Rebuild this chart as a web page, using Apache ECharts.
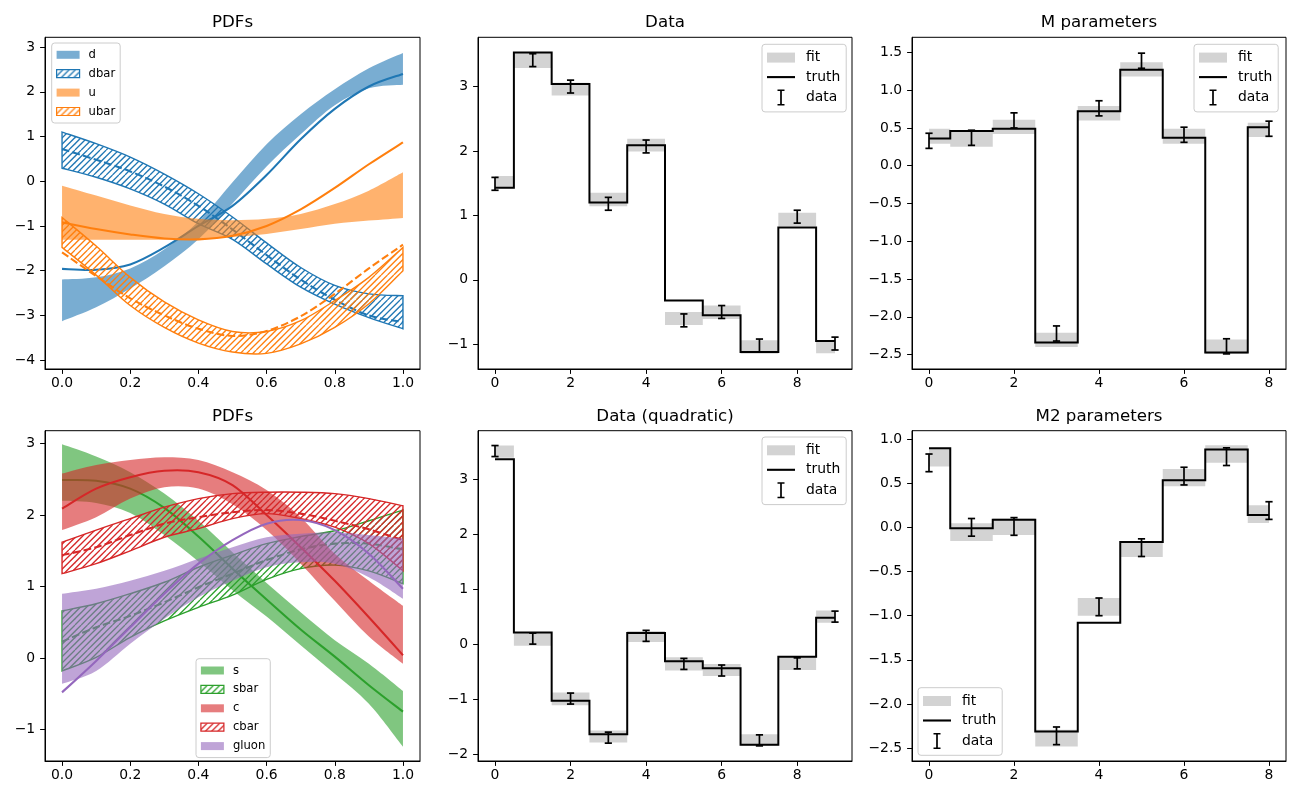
<!DOCTYPE html>
<html>
<head>
<meta charset="utf-8">
<title>PDF fits</title>
<script src="https://cdn.jsdelivr.net/npm/echarts@6.0.0/dist/echarts.min.js"></script>
<style>html,body{margin:0;padding:0;background:#fff;}#chart{width:1300px;height:800px;}</style>
</head>
<body>
<div id="chart"></div>
<script>
// ---------------- data ----------------
const titles = ['PDFs', 'Data', 'M parameters', 'PDFs', 'Data (quadratic)', 'M2 parameters'];

const pdfX = [0, 0.1, 0.2, 0.3, 0.4, 0.5, 0.6, 0.7, 0.8, 0.9, 1.0];
// top-left PDFs
const dLo = [-3.13, -2.82, -2.4, -1.9, -1.3, -0.5, 0.33, 1.05, 1.7, 2.08, 2.16];
const dHi = [-2.2, -2.15, -1.95, -1.52, -0.9, -0.02, 0.83, 1.5, 2.06, 2.53, 2.87];
const dTruth = [-1.96, -1.98, -1.86, -1.48, -1.0, -0.55, 0.14, 0.94, 1.62, 2.12, 2.4];
const dbarLo = [0.29, 0.09, -0.17, -0.51, -0.95, -1.3, -1.85, -2.37, -2.75, -3.05, -3.30];
const dbarHi = [1.10, 0.84, 0.54, 0.16, -0.28, -0.8, -1.38, -1.93, -2.33, -2.52, -2.56];
const dbarTruth = [0.72, 0.48, 0.22, -0.12, -0.55, -1.08, -1.65, -2.2, -2.65, -3.0, -3.15];
const uLo = [-1.31, -1.31, -1.31, -1.31, -1.29, -1.25, -1.18, -1.07, -0.95, -0.88, -0.82];
const uHi = [-0.1, -0.32, -0.54, -0.73, -0.84, -0.87, -0.84, -0.73, -0.51, -0.21, 0.2];
const uTruth = [-0.92, -1.07, -1.19, -1.28, -1.3, -1.22, -1.0, -0.63, -0.15, 0.38, 0.87];
const ubarLo = [-1.48, -2.1, -2.78, -3.27, -3.62, -3.82, -3.85, -3.64, -3.27, -2.74, -2.0];
const ubarHi = [-0.81, -1.45, -2.15, -2.7, -3.1, -3.36, -3.36, -3.12, -2.67, -2.15, -1.48];
const ubarTruth = [-1.59, -2.12, -2.62, -3.0, -3.3, -3.46, -3.35, -3.02, -2.52, -1.95, -1.42];
// bottom-left PDFs
const sLo = [2.2, 2.17, 2.03, 1.72, 1.35, 0.95, 0.58, 0.18, -0.22, -0.64, -1.24];
const sHi = [2.99, 2.82, 2.6, 2.3, 1.92, 1.48, 1.05, 0.64, 0.25, -0.08, -0.46];
const sTruth = [2.49, 2.48, 2.37, 2.1, 1.7, 1.25, 0.82, 0.4, 0.02, -0.38, -0.75];
const sbarLo = [-0.18, 0.01, 0.29, 0.52, 0.71, 0.88, 1.1, 1.25, 1.3, 1.22, 1.04];
const sbarHi = [0.66, 0.76, 0.9, 1.06, 1.27, 1.44, 1.6, 1.7, 1.78, 1.92, 2.07];
const sbarTruth = [0.23, 0.43, 0.59, 0.78, 0.99, 1.18, 1.37, 1.52, 1.6, 1.6, 1.52];
const cLo = [1.79, 1.97, 2.23, 2.39, 2.37, 2.15, 1.79, 1.32, 0.8, 0.3, -0.08];
const cHi = [2.58, 2.7, 2.77, 2.81, 2.77, 2.6, 2.35, 1.97, 1.46, 1.08, 0.73];
const cTruth = [2.09, 2.37, 2.53, 2.62, 2.6, 2.42, 2.0, 1.55, 1.08, 0.57, 0.04];
const cbarLo = [1.18, 1.32, 1.5, 1.69, 1.81, 1.95, 2.02, 1.95, 1.83, 1.6, 1.22];
const cbarHi = [1.62, 1.79, 1.95, 2.11, 2.23, 2.3, 2.32, 2.32, 2.3, 2.23, 2.13];
const cbarTruth = [1.44, 1.55, 1.72, 1.88, 1.97, 2.04, 2.07, 2.02, 1.92, 1.8, 1.65];
const gLo = [-0.36, -0.18, 0.2, 0.55, 0.85, 1.08, 1.27, 1.34, 1.32, 1.13, 0.83];
const gHi = [0.9, 0.97, 1.08, 1.22, 1.39, 1.55, 1.69, 1.74, 1.76, 1.72, 1.67];
const gTruth = [-0.48, -0.04, 0.43, 0.9, 1.32, 1.65, 1.88, 1.93, 1.79, 1.46, 0.97];

// Data (10 bins)
const dataBins = [0, 1, 2, 3, 4, 5, 6, 7, 8, 9];
const dataTruth = [1.43, 3.53, 3.04, 1.20, 2.09, -0.32, -0.55, -1.12, 0.81, -0.95];
const dataFitLo = [1.42, 3.29, 2.86, 1.14, 1.99, -0.70, -0.61, -1.15, 0.83, -1.14];
const dataFitHi = [1.61, 3.53, 3.06, 1.35, 2.19, -0.50, -0.40, -0.94, 1.04, -0.95];
const dataObs = [1.49, 3.41, 3.00, 1.18, 2.07, -0.63, -0.50, -1.02, 0.98, -0.99];
const dataErr = [0.1, 0.1, 0.1, 0.1, 0.1, 0.1, 0.1, 0.1, 0.1, 0.1];
// M parameters (9 bins)
const mBins = [0, 1, 2, 3, 4, 5, 6, 7, 8];
const mTruth = [0.36, 0.46, 0.49, -2.34, 0.72, 1.27, 0.37, -2.47, 0.51];
const mFitLo = [0.29, 0.25, 0.42, -2.40, 0.60, 1.18, 0.29, -2.49, 0.38];
const mFitHi = [0.49, 0.47, 0.61, -2.21, 0.79, 1.37, 0.49, -2.30, 0.57];
const mObs = [0.33, 0.37, 0.60, -2.22, 0.76, 1.39, 0.41, -2.39, 0.49];
const mErr = [0.1, 0.1, 0.1, 0.1, 0.1, 0.1, 0.1, 0.1, 0.1];
// Data (quadratic)
const qTruth = [3.36, 0.21, -1.03, -1.64, 0.20, -0.31, -0.44, -1.83, -0.23, 0.48];
const qFitLo = [3.39, -0.03, -1.11, -1.79, 0.04, -0.48, -0.58, -1.85, -0.47, 0.39];
const qFitHi = [3.61, 0.21, -0.88, -1.57, 0.24, -0.24, -0.36, -1.64, -0.23, 0.61];
const qObs = [3.51, 0.10, -0.99, -1.70, 0.15, -0.36, -0.48, -1.75, -0.35, 0.50];
const qErr = [0.1, 0.1, 0.1, 0.1, 0.1, 0.1, 0.1, 0.1, 0.1, 0.1];
// M2 parameters
const m2Truth = [0.895, -0.01, 0.086, -2.31, -1.08, -0.166, 0.534, 0.88, 0.14];
const m2FitLo = [0.69, -0.155, -0.087, -2.48, -1.00, -0.335, 0.466, 0.73, 0.05];
const m2FitHi = [0.895, 0.045, 0.10, -2.29, -0.80, -0.166, 0.66, 0.93, 0.25];
const m2Obs = [0.73, 0.0, 0.01, -2.36, -0.90, -0.23, 0.58, 0.80, 0.19];
const m2Err = [0.1, 0.1, 0.1, 0.1, 0.1, 0.1, 0.1, 0.1, 0.1];

// ticks
const pdfXTicks = [0, 0.2, 0.4, 0.6, 0.8, 1.0];
const pdfTopYTicks = [-4, -3, -2, -1, 0, 1, 2, 3];
const pdfBotYTicks = [-1, 0, 1, 2, 3];
const binXTicks = [0, 2, 4, 6, 8];
const dataYTicks = [-1, 0, 1, 2, 3];
const mYTicks = [-2.5, -2.0, -1.5, -1.0, -0.5, 0.0, 0.5, 1.0, 1.5];
const qYTicks = [-2, -1, 0, 1, 2, 3];
const m2YTicks = [-2.5, -2.0, -1.5, -1.0, -0.5, 0.0, 0.5, 1.0];

// ---------------- styling / helpers ----------------
const C0 = '#1f77b4', C1 = '#ff7f0e', C2 = '#2ca02c', C3 = '#d62728', C4 = '#9467bd';
const FONT = 'DejaVu Sans';
function alpha(hex, a) {
  const n = parseInt(hex.slice(1), 16);
  return 'rgba(' + (n >> 16) + ',' + ((n >> 8) & 255) + ',' + (n & 255) + ',' + a + ')';
}
function makeHatch(color) {
  const s = 25, k = 4, c = document.createElement('canvas');
  c.width = s; c.height = s;
  const g = c.getContext('2d');
  g.strokeStyle = color; g.lineWidth = 1.25;
  for (let j = 0; j <= 2 * k; j++) {
    const x0 = j * s / k - s;
    g.beginPath(); g.moveTo(x0, s); g.lineTo(x0 + s, 0); g.stroke();
  }
  return { image: c, repeat: 'repeat' };
}
const hatch = { C0: makeHatch(C0), C1: makeHatch(C1), C2: makeHatch(C2), C3: makeHatch(C3) };
const colorOf = { C0: C0, C1: C1, C2: C2, C3: C3 };

function fmt(v, dec) {
  const s = Math.abs(v).toFixed(dec);
  return (v < -1e-9 ? '\u2212' : '') + s;
}
function pt(p) { return p[0] + ',' + p[1]; }
function spline(pts) {
  let s = '';
  const n = pts.length;
  for (let i = 0; i < n - 1; i++) {
    const p0 = pts[i > 0 ? i - 1 : 0], p1 = pts[i], p2 = pts[i + 1], p3 = pts[i + 2 < n ? i + 2 : n - 1];
    s += 'C' + (p1[0] + (p2[0] - p0[0]) / 6) + ',' + (p1[1] + (p2[1] - p0[1]) / 6) + ' ' +
      (p2[0] - (p3[0] - p1[0]) / 6) + ',' + (p2[1] - (p3[1] - p1[1]) / 6) + ' ' + pt(p2);
  }
  return s;
}

const boxes = [
  [45, 37.3, 375, 331.7], [478, 37.3, 374, 331.7], [912, 37.3, 374, 331.7],
  [45, 430.7, 375, 330.3], [478, 430.7, 374, 330.3], [912, 430.7, 374, 330.3]
];
const grids = boxes.map(b => ({
  left: b[0], top: b[1], width: b[2], height: b[3], show: true,
  borderColor: '#000', borderWidth: 1, backgroundColor: 'transparent',
  containLabel: false, outerBoundsMode: 'none'
}));

function axis(dim, g, min, max, ticks, dec) {
  return {
    gridIndex: g, type: 'value', min: min, max: max, scale: true,
    axisLine: { show: true, onZero: false, lineStyle: { color: '#000', width: 1 } },
    axisTick: { show: true, inside: false, length: 4.9, lineStyle: { color: '#000', width: 1 }, customValues: ticks },
    axisLabel: {
      show: true, customValues: ticks, formatter: v => fmt(v, dec), color: '#000',
      fontSize: 13.9, fontFamily: FONT, margin: dim === 'x' ? 7.5 : 9.8
    },
    splitLine: { show: false }
  };
}
const xAxes = [
  axis('x', 0, -0.05, 1.05, pdfXTicks, 1),
  axis('x', 1, -0.45, 9.45, binXTicks, 0),
  axis('x', 2, -0.4, 8.4, binXTicks, 0),
  axis('x', 3, -0.05, 1.05, pdfXTicks, 1),
  axis('x', 4, -0.45, 9.45, binXTicks, 0),
  axis('x', 5, -0.4, 8.4, binXTicks, 0)
];
const yAxes = [
  axis('y', 0, -4.2, 3.22, pdfTopYTicks, 0),
  axis('y', 1, -1.385, 3.765, dataYTicks, 0),
  axis('y', 2, -2.69, 1.70, mYTicks, 1),
  axis('y', 3, -1.44, 3.18, pdfBotYTicks, 0),
  axis('y', 4, -2.125, 3.88, qYTicks, 0),
  axis('y', 5, -2.645, 1.094, m2YTicks, 1)
];

function bandSeries(g, name, lo, hi, fill, stroke) {
  return {
    type: 'custom', name: name, xAxisIndex: g, yAxisIndex: g, silent: true,
    data: pdfX.map((x, i) => [x, lo[i], hi[i]]),
    encode: { x: 0, y: [1, 2] },
    renderItem: function (params, api) {
      if (params.dataIndex !== 0) return null;
      const top = pdfX.map((x, i) => api.coord([x, hi[i]]));
      const bot = pdfX.map((x, i) => api.coord([x, lo[i]])).reverse();
      const d = 'M' + pt(top[0]) + spline(top) + 'L' + pt(bot[0]) + spline(bot) + 'Z';
      return {
        type: 'path', shape: { pathData: d },
        style: { fill: fill, stroke: stroke || 'none', lineWidth: stroke ? 1.4 : 0 }
      };
    }
  };
}
function curveSeries(g, ys, color, dashed) {
  return {
    type: 'custom', xAxisIndex: g, yAxisIndex: g, silent: true,
    data: pdfX.map((x, i) => [x, ys[i]]),
    encode: { x: 0, y: 1 },
    renderItem: function (params, api) {
      if (params.dataIndex !== 0) return null;
      const pts = pdfX.map((x, i) => api.coord([x, ys[i]]));
      return {
        type: 'path', shape: { pathData: 'M' + pt(pts[0]) + spline(pts) },
        style: { fill: 'none', stroke: color, lineWidth: 2.08, lineDash: dashed ? [7.7, 3.3] : null, lineCap: 'butt' }
      };
    }
  };
}

function stepSeries(g, bins, fitLo, fitHi, truth, obs, err) {
  const first = bins[0], last = bins[bins.length - 1];
  return [
    {
      type: 'custom', name: 'fit', xAxisIndex: g, yAxisIndex: g, silent: true,
      data: bins.map((b, i) => [b, fitLo[i], fitHi[i]]),
      encode: { x: 0, y: [1, 2] },
      renderItem: function (params, api) {
        if (params.dataIndex !== 0) return null;
        let d = '';
        bins.forEach((b, i) => {
          const a = api.coord([Math.max(b - 0.5, first), fitHi[i]]);
          const c = api.coord([Math.min(b + 0.5, last), fitLo[i]]);
          d += 'M' + a[0] + ',' + a[1] + 'L' + c[0] + ',' + a[1] + 'L' + c[0] + ',' + c[1] + 'L' + a[0] + ',' + c[1] + 'Z';
        });
        return { type: 'path', shape: { pathData: d }, style: { fill: '#d3d3d3', stroke: 'none' } };
      }
    },
    {
      type: 'line', name: 'truth', xAxisIndex: g, yAxisIndex: g, silent: true,
      step: 'middle', symbol: 'none',
      data: bins.map((b, i) => [b, truth[i]]),
      lineStyle: { color: '#000', width: 2, join: 'miter' }, itemStyle: { color: '#000' }
    },
    {
      type: 'custom', name: 'data', xAxisIndex: g, yAxisIndex: g, silent: true,
      data: bins.map((b, i) => [b, obs[i], err[i]]),
      encode: { x: 0, y: 1 },
      renderItem: function (params, api) {
        const x = api.value(0), y = api.value(1), e = api.value(2);
        const t = api.coord([x, y + e]), bt = api.coord([x, y - e]);
        const w = 3.6, st = { stroke: '#000', lineWidth: 1.7 };
        return {
          type: 'group', children: [
            { type: 'line', shape: { x1: t[0], y1: t[1], x2: bt[0], y2: bt[1] }, style: st },
            { type: 'line', shape: { x1: t[0] - w, y1: t[1], x2: t[0] + w, y2: t[1] }, style: st },
            { type: 'line', shape: { x1: bt[0] - w, y1: bt[1], x2: bt[0] + w, y2: bt[1] }, style: st }
          ]
        };
      }
    }
  ];
}

const series = [
  bandSeries(0, 'd', dLo, dHi, alpha(C0, 0.6)),
  curveSeries(0, dTruth, C0, false),
  bandSeries(0, 'dbar', dbarLo, dbarHi, hatch.C0, C0),
  curveSeries(0, dbarTruth, C0, true),
  bandSeries(0, 'u', uLo, uHi, alpha(C1, 0.6)),
  curveSeries(0, uTruth, C1, false),
  bandSeries(0, 'ubar', ubarLo, ubarHi, hatch.C1, C1),
  curveSeries(0, ubarTruth, C1, true),

  bandSeries(3, 's', sLo, sHi, alpha(C2, 0.6)),
  curveSeries(3, sTruth, C2, false),
  bandSeries(3, 'sbar', sbarLo, sbarHi, hatch.C2, C2),
  curveSeries(3, sbarTruth, C2, true),
  bandSeries(3, 'c', cLo, cHi, alpha(C3, 0.6)),
  curveSeries(3, cTruth, C3, false),
  bandSeries(3, 'cbar', cbarLo, cbarHi, hatch.C3, C3),
  curveSeries(3, cbarTruth, C3, true),
  bandSeries(3, 'gluon', gLo, gHi, alpha(C4, 0.6)),
  curveSeries(3, gTruth, C4, false)
].concat(
  stepSeries(1, dataBins, dataFitLo, dataFitHi, dataTruth, dataObs, dataErr),
  stepSeries(2, mBins, mFitLo, mFitHi, mTruth, mObs, mErr),
  stepSeries(4, dataBins, qFitLo, qFitHi, qTruth, qObs, qErr),
  stepSeries(5, mBins, m2FitLo, m2FitHi, m2Truth, m2Obs, m2Err)
);

const fitIcon = 'path://M0,0H28V10H0Z';
const truthIcon = 'path://M0,0H28V2.1H0Z';
const dataIcon = 'path://M0,0H7V1.5H0Z M2.65,0H4.35V16H2.65Z M0,14.5H7V16H0Z';
function stepLegend(left, top) {
  return {
    orient: 'vertical', left: left, top: top, itemWidth: 28, itemHeight: 16, itemGap: 5.5,
    padding: [6.3, 6, 6.3, 5], backgroundColor: 'rgba(255,255,255,0.8)', borderColor: '#cccccc',
    borderWidth: 1, borderRadius: 3, selectedMode: false,
    textStyle: { fontSize: 13.9, fontFamily: FONT, color: '#000', padding: [0, 0, 0, 6] },
    data: [
      { name: 'fit', icon: fitIcon, itemStyle: { color: '#d3d3d3', borderWidth: 0 } },
      { name: 'truth', icon: truthIcon, itemStyle: { color: '#000', borderWidth: 0 } },
      { name: 'data', icon: dataIcon, itemStyle: { color: '#000', borderWidth: 0 } }
    ]
  };
}
function pdfLegend(left, top, items) {
  return {
    orient: 'vertical', left: left, top: top, itemWidth: 23, itemHeight: 8, itemGap: 6.9,
    padding: [5.8, 5, 5.5, 4.3], backgroundColor: 'rgba(255,255,255,0.8)', borderColor: '#cccccc',
    borderWidth: 1, borderRadius: 3, selectedMode: false,
    textStyle: { fontSize: 11.6, fontFamily: FONT, color: '#000', padding: [0, 0, 0, 4] },
    data: items.map(it => ({
      name: it[0], icon: 'rect',
      itemStyle: it[2] ? { color: hatch[it[1]], borderColor: colorOf[it[1]], borderWidth: 1.2 }
        : { color: alpha(it[1], 0.6), borderWidth: 0 }
    }))
  };
}

const titleCenters = [[232.5, 23], [665, 23], [1099, 23], [232.5, 416.5], [665, 416.5], [1099, 416.5]];
const graphic = titles.map((t, i) => ({
  type: 'text', x: titleCenters[i][0], y: titleCenters[i][1], silent: true,
  style: {
    text: t, fill: '#000', font: '16.67px "DejaVu Sans"', align: 'center', verticalAlign: 'middle',
    textAlign: 'center', textVerticalAlign: 'middle'
  }
}));

const option = {
  animation: false,
  backgroundColor: '#ffffff',
  grid: grids,
  xAxis: xAxes,
  yAxis: yAxes,
  legend: [
    pdfLegend(51.7, 43, [['d', C0, false], ['dbar', 'C0', true], ['u', C1, false], ['ubar', 'C1', true]]),
    pdfLegend(196, 658.7, [['s', C2, false], ['sbar', 'C2', true], ['c', C3, false], ['cbar', 'C3', true], ['gluon', C4, false]]),
    stepLegend(762, 44.3),
    stepLegend(1194, 44.3),
    stepLegend(762, 437),
    stepLegend(918, 687.7)
  ],
  graphic: graphic,
  series: series
};

const chart = echarts.init(document.getElementById('chart'), null, { renderer: 'canvas', width: 1300, height: 800 });
chart.setOption(option);
</script>
</body>
</html>
